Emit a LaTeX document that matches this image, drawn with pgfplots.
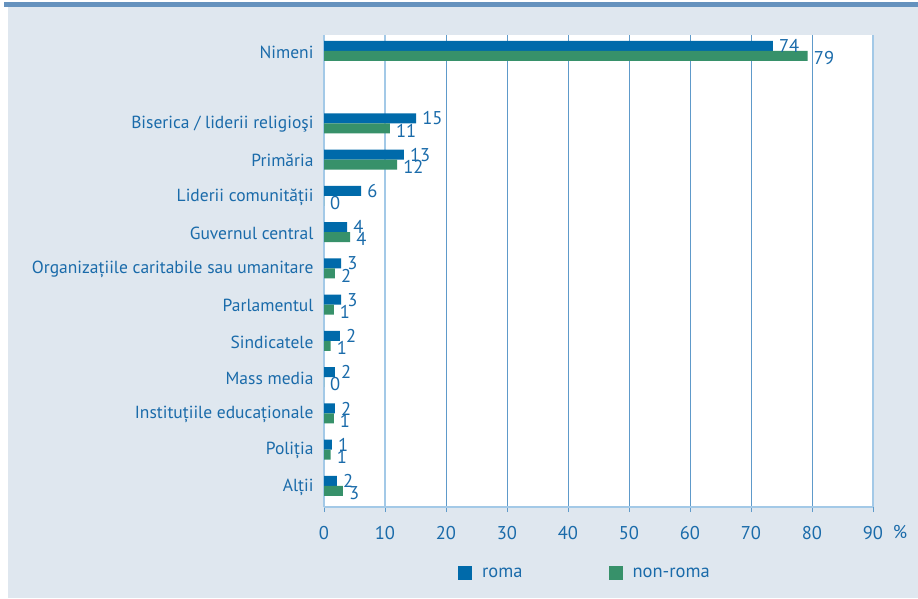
\documentclass[border=0pt]{standalone}
\usepackage{pgfplots}
\pgfplotsset{compat=1.18}
\usepackage{fontspec}
\setmainfont{PT Sans}
\definecolor{bg}{HTML}{DFE7EF}
\definecolor{topbar}{HTML}{6592BE}
\definecolor{txt}{HTML}{1A6BAA}
\definecolor{romac}{HTML}{006AAA}
\definecolor{nonc}{HTML}{37916A}
\definecolor{gridc}{HTML}{5E9ACA}
\definecolor{axc}{HTML}{A3C9E7}
\newcommand{\lf}{\fontsize{17.5}{20}\selectfont}
\newcommand{\nf}{\fontsize{18.5}{21}\selectfont}
\pgfplotsset{sqlegend/.style={legend image code/.code={\fill[#1, draw=none] (0pt,-7pt) rectangle (14pt,7pt);}}}
\begin{document}
\begin{tikzpicture}[x=1pt,y=1pt]
\path[use as bounding box] (0,0) rectangle (918,598);
\fill[bg] (8,0) rectangle (918,591);
\fill[topbar] (4,591) rectangle (918,596);
\begin{axis}[
  at={(324pt,91pt)}, anchor=south west,
  scale only axis, width=549pt, height=472pt,
  xmin=0, xmax=90, ymin=-0.58, ymax=12.44,
  xbar, bar width=0.276,
  axis background/.style={fill=white},
  axis x line*=bottom, axis y line*=left,
  axis line style={axc, line width=1.6pt},
  xtick={0,10,...,90},
  xmajorgrids, grid style={gridc, line width=0.8pt},
  extra x ticks={10}, extra x tick labels={},
  extra x tick style={grid style={axc, line width=2.4pt}, major tick length=0pt},
  tick align=outside, major tick length=5pt,
  xtick style={gridc, line width=0.8pt},
  ytick={0,1,2,3,4,5,6,7,8,9,10,12},
  yticklabels={Alții, Poliția, Instituțiile educaționale, Mass media, Sindicatele, Parlamentul, Organizațiile caritabile sau umanitare, {Guvernul central\hspace{0.3em}}, Liderii comunității, {Primăria\hspace{0.3em}}, Biserica / liderii religioşi, Nimeni},
  ytick style={draw=none},
  yticklabel style={font=\lf, text=txt, xshift=-2pt, yshift=-1pt},
  xticklabel style={font=\nf, text=txt, yshift=-11pt},
  /pgf/number format/assume math mode=true,
  point meta=explicit symbolic,
  nodes near coords={\pgfplotspointmeta},
  every node near coord/.append style={font=\nf, text=txt, inner sep=0pt, anchor=west, xshift=6pt},
  legend columns=2,
  legend style={at={(0.244,-0.14)}, anchor=west, draw=none, fill=none, inner sep=0pt,
    font=\nf, text=txt, nodes={inner sep=0pt},
    /tikz/every odd column/.style={column sep=10pt},
    /tikz/every even column/.style={column sep=86pt}},
  clip=false,
]
\addplot[fill=romac, draw=none, bar shift=0.138,
  every node near coord/.append style={yshift=0pt}, sqlegend]
 coordinates {
 (2.1,0) [2]
 (1.3,1) [1]
 (1.8,2) [2]
 (1.8,3) [2]
 (2.6,4) [2]
 (2.8,5) [3]
 (2.8,6) [3]
 (3.8,7) [4]
 (6.1,8) [6]
 (13.1,9) [13]
 (15.1,10) [15]
 (73.6,12) [74]
 };
\addlegendentry{roma}
\addplot[fill=nonc, draw=none, bar shift=-0.138,
  every node near coord/.append style={yshift=-2pt}, sqlegend]
 coordinates {
 (3.1,0) [3]
 (1.1,1) [1]
 (1.6,2) [1]
 (0,3) [0]
 (1.1,4) [1]
 (1.6,5) [1]
 (1.8,6) [2]
 (4.3,7) [4]
 (0,8) [0]
 (12.0,9) [12]
 (10.8,10) [11]
 (79.3,12) [79]
 };
\addlegendentry{non-roma}
\draw[axc, line width=1.6pt] (rel axis cs:1,0) -- (rel axis cs:1,1);
\node[font=\nf, text=txt] at (rel axis cs:1,0) [xshift=27pt, yshift=-25pt] {\%};
\end{axis}
\end{tikzpicture}
\end{document}
